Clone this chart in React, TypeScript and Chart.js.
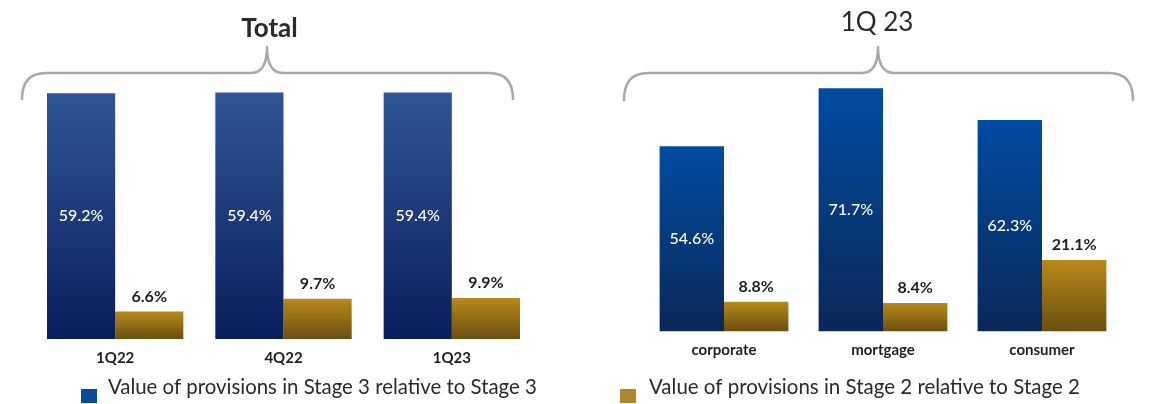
import React, { useEffect, useRef } from 'react';
import { Chart, registerables } from 'chart.js';

Chart.register(...registerables);

const FONT = 'Lato, "Open Sans", sans-serif';

// ---- data ----
const totalTitle = 'Total';
const totalCategories = ['1Q22', '4Q22', '1Q23'];
const totalStage3 = [59.2, 59.4, 59.4];
const totalStage2 = [6.6, 9.7, 9.9];

const segmentTitle = '1Q 23';
const segmentCategories = ['corporate', 'mortgage', 'consumer'];
const segmentStage3 = [54.6, 71.7, 62.3];
const segmentStage2 = [8.8, 8.4, 21.1];

const stage3Label = 'Value of provisions in Stage 3 relative to Stage 3';
const stage2Label = 'Value of provisions in Stage 2 relative to Stage 2';

// ---- styles ----
const leftBlue = ['#2f5597', '#0a1e5c'];
const rightBlue = ['#004ca2', '#0b2858'];
const gold = ['#b98a1b', '#6a4f0f'];
const blueSwatch = '#0b4a97';
const goldSwatch = '#b0862a';

type PanelSpec = {
  left: number;
  width: number;
  title: string;
  titleWeight: string;
  titleX: number;
  titleBaseline: number;
  categories: string[];
  stage3: number[];
  stage2: number[];
  blue: string[];
  yMax: number;
  padding: { left: number; right: number; top: number; bottom: number };
  tickPadding: number;
  brace: { x1: number; x2: number; xm: number; yH: number; yPeak: number; yEnd: number };
  legend: { swatchX: number; textX: number; width: number; color: string; text: string };
};

const panels: PanelSpec[] = [
  {
    left: 0,
    width: 575,
    title: totalTitle,
    titleWeight: 'bold',
    titleX: 269.5,
    titleBaseline: 37,
    categories: totalCategories,
    stage3: totalStage3,
    stage2: totalStage2,
    blue: leftBlue,
    yMax: 60,
    padding: { left: 31, right: 39, top: 90, bottom: 27 },
    tickPadding: 10,
    brace: { x1: 22, x2: 513, xm: 267, yH: 73, yPeak: 47, yEnd: 99 },
    legend: { swatchX: 81, textX: 108, width: 429, color: blueSwatch, text: stage3Label },
  },
  {
    left: 575,
    width: 576,
    title: segmentTitle,
    titleWeight: 'normal',
    titleX: 302,
    titleBaseline: 31,
    categories: segmentCategories,
    stage3: segmentStage3,
    stage2: segmentStage2,
    blue: rightBlue,
    yMax: 75,
    padding: { left: 69.5, right: 29.5, top: 77, bottom: 35.5 },
    tickPadding: 9.5,
    brace: { x1: 49, x2: 558, xm: 303, yH: 73, yPeak: 47, yEnd: 100 },
    legend: { swatchX: 45, textX: 74, width: 431, color: goldSwatch, text: stage2Label },
  },
];

function Panel({ spec }: { spec: PanelSpec }) {
  const ref = useRef<HTMLCanvasElement>(null);

  useEffect(() => {
    const canvas = ref.current;
    if (!canvas) return;

    const barGradient = (colors: string[]) => (context: any) => {
      const chart = context.chart;
      const area = chart.chartArea;
      if (!area || context.type !== 'data' || !chart.scales.y) return colors[0];
      const yScale = chart.scales.y;
      const top = yScale.getPixelForValue(context.raw as number);
      const base = yScale.getPixelForValue(0);
      if (!isFinite(top) || !isFinite(base) || top === base) return colors[0];
      const g = chart.ctx.createLinearGradient(0, top, 0, base);
      g.addColorStop(0, colors[0]);
      g.addColorStop(1, colors[1]);
      return g;
    };

    const decor = {
      id: 'decor',
      afterDatasetsDraw(chart: any) {
        const ctx = chart.ctx as CanvasRenderingContext2D;
        ctx.save();
        ctx.textAlign = 'center';
        ctx.textBaseline = 'middle';
        chart.data.datasets.forEach((ds: any, di: number) => {
          const meta = chart.getDatasetMeta(di);
          meta.data.forEach((el: any, i: number) => {
            const v = ds.data[i] as number;
            const text = v.toFixed(1) + '%';
            if (di === 0) {
              ctx.fillStyle = '#ffffff';
              ctx.font = `500 16px ${FONT}`;
              ctx.fillText(text, el.x, (el.y + el.base) / 2);
            } else {
              ctx.fillStyle = '#1f1f1f';
              ctx.font = `bold 16px ${FONT}`;
              ctx.fillText(text, el.x, el.y - 15);
            }
          });
        });
        ctx.restore();
      },
      afterDraw(chart: any) {
        const ctx = chart.ctx as CanvasRenderingContext2D;
        ctx.save();
        // title
        ctx.fillStyle = '#2a2a2a';
        ctx.font = `${spec.titleWeight} 26px ${FONT}`;
        ctx.textAlign = 'center';
        ctx.textBaseline = 'alphabetic';
        ctx.fillText(spec.title, spec.titleX, spec.titleBaseline);

        // brace
        const b = spec.brace;
        ctx.strokeStyle = '#a8a8a8';
        ctx.lineWidth = 2.5;
        ctx.lineCap = 'round';
        ctx.lineJoin = 'round';
        ctx.beginPath();
        ctx.moveTo(b.x1, b.yEnd);
        ctx.quadraticCurveTo(b.x1, b.yH, b.x1 + 24, b.yH);
        ctx.lineTo(b.xm - 16, b.yH);
        ctx.bezierCurveTo(b.xm - 3, b.yH, b.xm, b.yH - 12, b.xm, b.yPeak);
        ctx.bezierCurveTo(b.xm, b.yH - 12, b.xm + 3, b.yH, b.xm + 16, b.yH);
        ctx.lineTo(b.x2 - 24, b.yH);
        ctx.quadraticCurveTo(b.x2, b.yH, b.x2, b.yEnd);
        ctx.stroke();

        // legend
        const lg = spec.legend;
        ctx.fillStyle = lg.color;
        ctx.fillRect(lg.swatchX, 389, 16, 14);
        ctx.font = `18px ${FONT}`;
        const w = ctx.measureText(lg.text).width;
        const size = Math.min(22, (18 * lg.width) / w);
        ctx.font = `${size.toFixed(2)}px ${FONT}`;
        ctx.fillStyle = '#2a2a2a';
        ctx.textAlign = 'left';
        ctx.textBaseline = 'alphabetic';
        ctx.fillText(lg.text, lg.textX, 394);
        ctx.restore();
      },
    };

    const chart = new Chart(canvas, {
      type: 'bar',
      data: {
        labels: spec.categories,
        datasets: [
          {
            label: stage3Label,
            data: spec.stage3,
            backgroundColor: barGradient(spec.blue) as any,
            borderWidth: 0,
          },
          {
            label: stage2Label,
            data: spec.stage2,
            backgroundColor: barGradient(gold) as any,
            borderWidth: 0,
          },
        ],
      },
      options: {
        responsive: false,
        animation: false,
        layout: { padding: spec.padding },
        datasets: { bar: { categoryPercentage: 0.81, barPercentage: 1 } },
        plugins: {
          legend: { display: false },
          title: { display: false },
          tooltip: { enabled: false },
        },
        scales: {
          x: {
            grid: { display: false, drawTicks: false },
            border: { display: false },
            ticks: {
              font: { family: FONT, size: 15, weight: 'bold' },
              color: '#222222',
              padding: spec.tickPadding,
            },
          },
          y: { display: false, min: 0, max: spec.yMax },
        },
      },
      plugins: [decor],
    });

    return () => chart.destroy();
  }, [spec]);

  return (
    <canvas
      ref={ref}
      width={spec.width}
      height={404}
      style={{ position: 'absolute', left: spec.left, top: 0, display: 'block' }}
    />
  );
}

export default function App() {
  return (
    <div
      style={{
        position: 'fixed',
        left: 0,
        top: 0,
        width: 1151,
        height: 404,
        background: '#ffffff',
        overflow: 'hidden',
      }}
    >
      {panels.map((p) => (
        <Panel key={p.title} spec={p} />
      ))}
    </div>
  );
}
